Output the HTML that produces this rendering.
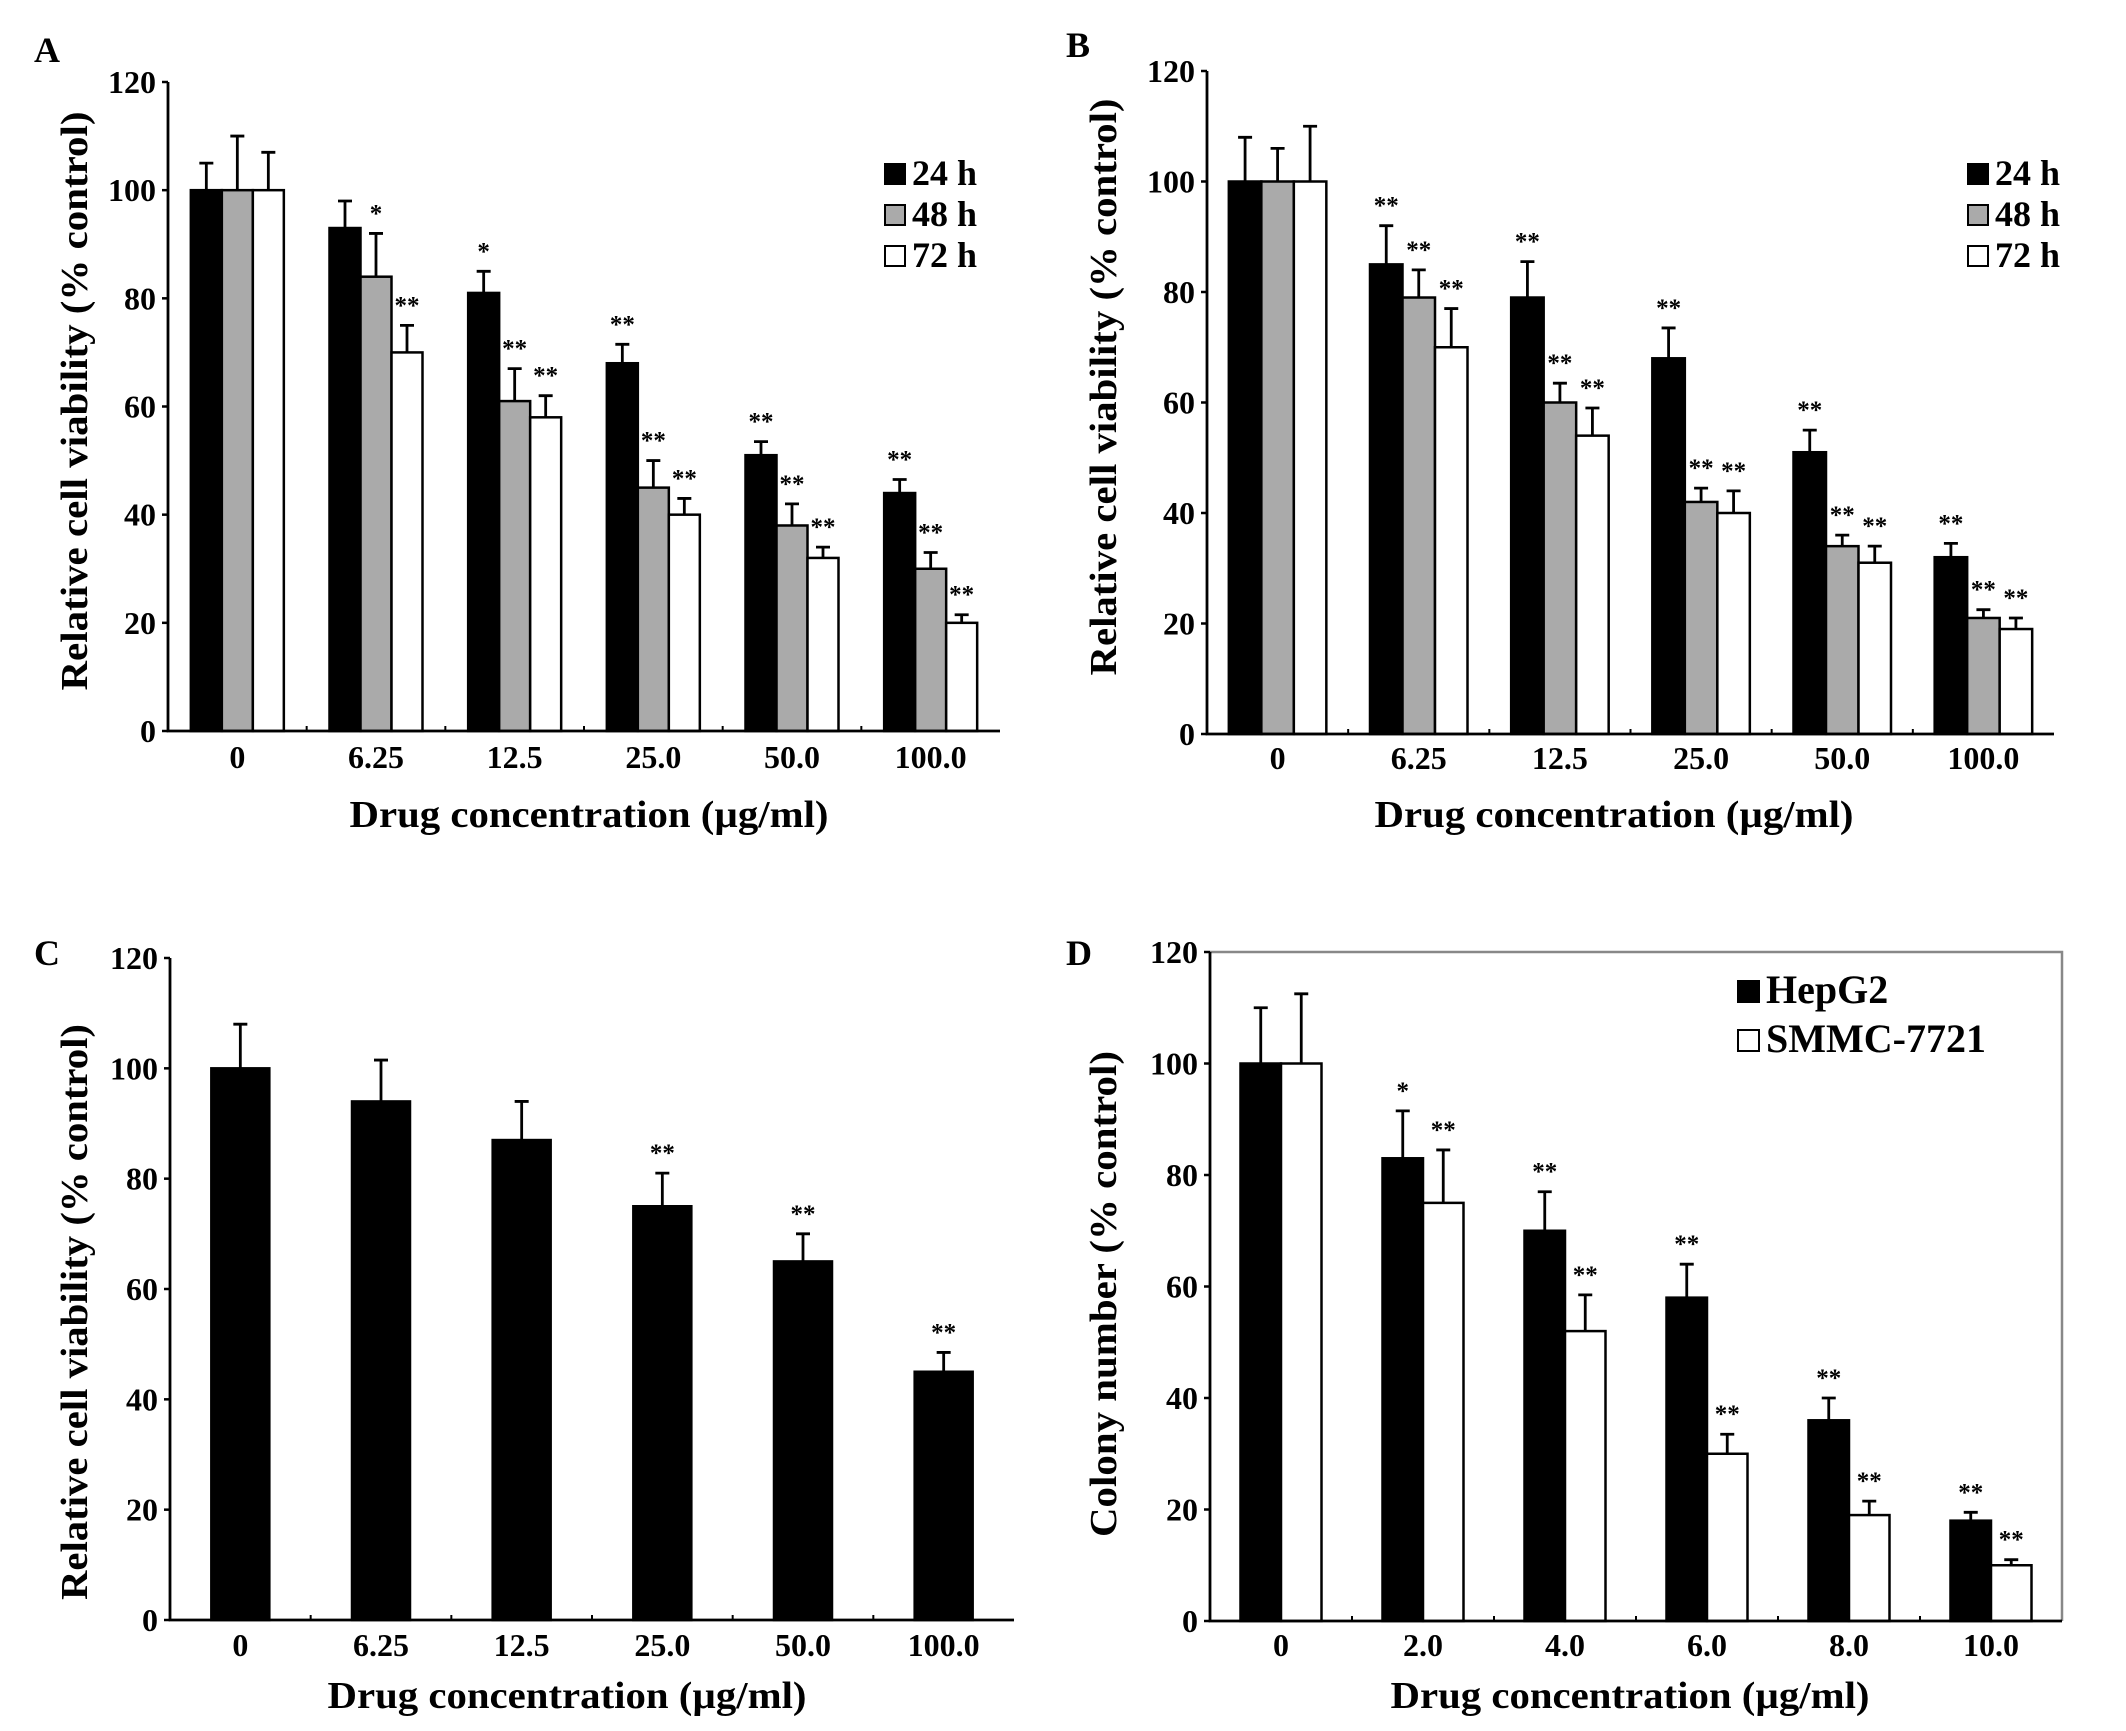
<!DOCTYPE html>
<html><head><meta charset="utf-8">
<style>
html,body{margin:0;padding:0;background:#fff;}
svg{display:block;font-family:"Liberation Serif","Times New Roman",serif;font-weight:bold;}
</style></head>
<body>
<svg id="fig" width="2126" height="1731" viewBox="0 0 2126 1731" xmlns="http://www.w3.org/2000/svg"></svg>
<script>
// ---- Data ----
const catsAC = ["0","6.25","12.5","25.0","50.0","100.0"];
const catsD = ["0","2.0","4.0","6.0","8.0","10.0"];
const yTicks = [0,20,40,60,80,100,120];

const seriesNamesAB = ["24 h","48 h","72 h"];
const A_24 = [100,93,81,68,51,44];
const A_24err = [105,98,85,71.5,53.5,46.5];
const A_48 = [100,84,61,45,38,30];
const A_48err = [110,92,67,50,42,33];
const A_72 = [100,70,58,40,32,20];
const A_72err = [107,75,62,43,34,21.5];
const A_24sig = ["","","*","**","**","**"];
const A_48sig = ["","*","**","**","**","**"];
const A_72sig = ["","**","**","**","**","**"];

const B_24 = [100,85,79,68,51,32];
const B_24err = [108,92,85.5,73.5,55,34.5];
const B_48 = [100,79,60,42,34,21];
const B_48err = [106,84,63.5,44.5,36,22.5];
const B_72 = [100,70,54,40,31,19];
const B_72err = [110,77,59,44,34,21];
const B_24sig = ["","**","**","**","**","**"];
const B_48sig = ["","**","**","**","**","**"];
const B_72sig = ["","**","**","**","**","**"];

const C_vals = [100,94,87,75,65,45];
const C_err = [108,101.5,94,81,70,48.5];
const C_sig = ["","","","**","**","**"];

const seriesNamesD = ["HepG2","SMMC-7721"];
const D_hep = [100,83,70,58,36,18];
const D_hepErr = [110,91.5,77,64,40,19.5];
const D_smmc = [100,75,52,30,19,10];
const D_smmcErr = [112.5,84.5,58.5,33.5,21.5,11];
const D_hepSig = ["","*","**","**","**","**"];
const D_smmcSig = ["","**","**","**","**","**"];

const NS = "http://www.w3.org/2000/svg";
const svg = document.getElementById("fig");
function mk(tag, attrs, parent, txt){
  const e = document.createElementNS(NS, tag);
  for (const k in attrs) e.setAttribute(k, attrs[k]);
  if (txt !== undefined) e.textContent = txt;
  (parent || svg).appendChild(e);
  return e;
}

function panel(p){
  const g = mk("g", {});
  
  
  const yScale = v => p.y0 - (v/120)*(p.y0 - p.y120);
  const cw = (p.x1 - p.x0)/p.cats.length;
  const xCat = i => p.x0 + cw*i;
  const L = mk("text", {x:p.lx, y:p.ly, "font-size":36}, g, p.letter);
  
  
  const n = p.series.length;
  const gw = p.bw*n;
  p.series.forEach((s, si) => {
    s.vals.forEach((v, i) => {
      const bx = xCat(i) + (cw - gw)/2 + si*p.bw;
      const top = yScale(v);
      const r = mk("rect", {x:bx, y:top, width:p.bw, height:yScale(0)-top, fill:s.fill, stroke:"#000", "stroke-width":2.5}, g);
      
      
      const cx = bx + p.bw/2;
      const et = yScale(s.err[i]);
      const eb = mk("path", {d:`M${cx} ${top} V${et} M${cx-7} ${et} H${cx+7}`, stroke:"#000", "stroke-width":2.8, fill:"none"}, g);
      
      
      if (s.sig[i]) {
        const t = mk("text", {x:cx, y:et-12, "text-anchor":"middle", "font-size":25}, g, s.sig[i]);
        
        
      }
    });
  });
  if (p.box) {
    const b = mk("path", {d:`M${p.x0} ${p.y120} H${p.x1} V${p.y0}`, stroke:"#888", "stroke-width":2.5, fill:"none"}, g);
    
    
  }
  const ax = mk("path", {d:`M${p.x0} ${p.y120} V${p.y0} H${p.x1}`, stroke:"#000", "stroke-width":2.8, fill:"none"}, g);
  
  
  yTicks.forEach(v => {
    const y = yScale(v);
    mk("line", {x1:p.x0-6, x2:p.x0, y1:y, y2:y, stroke:"#000", "stroke-width":2.5}, g);
    const t = mk("text", {x:p.x0-12, y:y+11, "text-anchor":"end", "font-size":32}, g, String(v));
    
    
  });
  p.cats.forEach((c, i) => {
    if (i > 0) mk("line", {x1:xCat(i), x2:xCat(i), y1:p.y0-5, y2:p.y0, stroke:"#000", "stroke-width":2}, g);
    const t = mk("text", {x:xCat(i)+cw/2, y:p.xly+2, "text-anchor":"middle", "font-size":32}, g, c);
    
    
  });
  const xt = mk("text", {x:p.xtx, y:p.xty, "text-anchor":"middle", "font-size":38, textLength:479, lengthAdjust:"spacingAndGlyphs"}, g, "Drug concentration (µg/ml)");
  
  
  const yt = mk("text", {x:0, y:0, "text-anchor":"middle", "font-size":38, textLength:p.ytl, lengthAdjust:"spacingAndGlyphs", transform:`translate(${p.ytx},${p.yty}) rotate(-90)`}, g, p.ytitle);
  
  
  if (p.legend) {
    p.legend.items.forEach((it, k) => {
      const ly = p.legend.ys[k];
      const sq = mk("rect", {x:p.legend.x, y:ly-p.legend.sz, width:p.legend.sz, height:p.legend.sz, fill:it.fill, stroke:"#000", "stroke-width":2}, g);
      
      
      const t = mk("text", {x:p.legend.x+p.legend.sz+7, y:ly+1, "font-size":p.legend.fs}, g, it.label);
      
      
    });
  }
}

panel({name:"panel-a", letter:"A", lx:34, ly:62, x0:168, x1:1000, y0:731, y120:82, bw:31, cats:catsAC,
  series:[{key:"24h",vals:A_24,err:A_24err,sig:A_24sig,fill:"#000"},{key:"48h",vals:A_48,err:A_48err,sig:A_48sig,fill:"#aaa"},{key:"72h",vals:A_72,err:A_72err,sig:A_72sig,fill:"#fff"}],
  xly:766, xtx:589, xty:827, ytx:87, yty:401, ytl:579, ytitle:"Relative cell viability (% control)",
  legend:{x:885, ys:[184,225,266], sz:20, fs:36, items:[{fill:"#000",label:seriesNamesAB[0]},{fill:"#aaa",label:seriesNamesAB[1]},{fill:"#fff",label:seriesNamesAB[2]}]}});

panel({name:"panel-b", letter:"B", lx:1066, ly:57, x0:1207, x1:2054, y0:734, y120:71, bw:32.5, cats:catsAC,
  series:[{key:"24h",vals:B_24,err:B_24err,sig:B_24sig,fill:"#000"},{key:"48h",vals:B_48,err:B_48err,sig:B_48sig,fill:"#aaa"},{key:"72h",vals:B_72,err:B_72err,sig:B_72sig,fill:"#fff"}],
  xly:767, xtx:1614, xty:827, ytx:1116, yty:387, ytl:577, ytitle:"Relative cell viability (% control)",
  legend:{x:1968, ys:[184,225,266], sz:20, fs:36, items:[{fill:"#000",label:seriesNamesAB[0]},{fill:"#aaa",label:seriesNamesAB[1]},{fill:"#fff",label:seriesNamesAB[2]}]}});

panel({name:"panel-c", letter:"C", lx:34, ly:965, x0:170, x1:1014, y0:1620, y120:958, bw:58, cats:catsAC,
  series:[{key:"viability",vals:C_vals,err:C_err,sig:C_sig,fill:"#000"}],
  xly:1654, xtx:567, xty:1708, ytx:87, yty:1312, ytl:576, ytitle:"Relative cell viability (% control)"});

panel({name:"panel-d", letter:"D", lx:1066, ly:965, x0:1210, x1:2062, y0:1621, y120:952, bw:40.5, cats:catsD, box:true,
  series:[{key:"hepg2",vals:D_hep,err:D_hepErr,sig:D_hepSig,fill:"#000"},{key:"smmc7721",vals:D_smmc,err:D_smmcErr,sig:D_smmcSig,fill:"#fff"}],
  xly:1654, xtx:1630, xty:1708, ytx:1116, yty:1294, ytl:486, ytitle:"Colony number (% control)",
  legend:{x:1738, ys:[1002,1051], sz:21, fs:40, items:[{fill:"#000",label:seriesNamesD[0]},{fill:"#fff",label:seriesNamesD[1]}]}});
</script>
</body></html>
